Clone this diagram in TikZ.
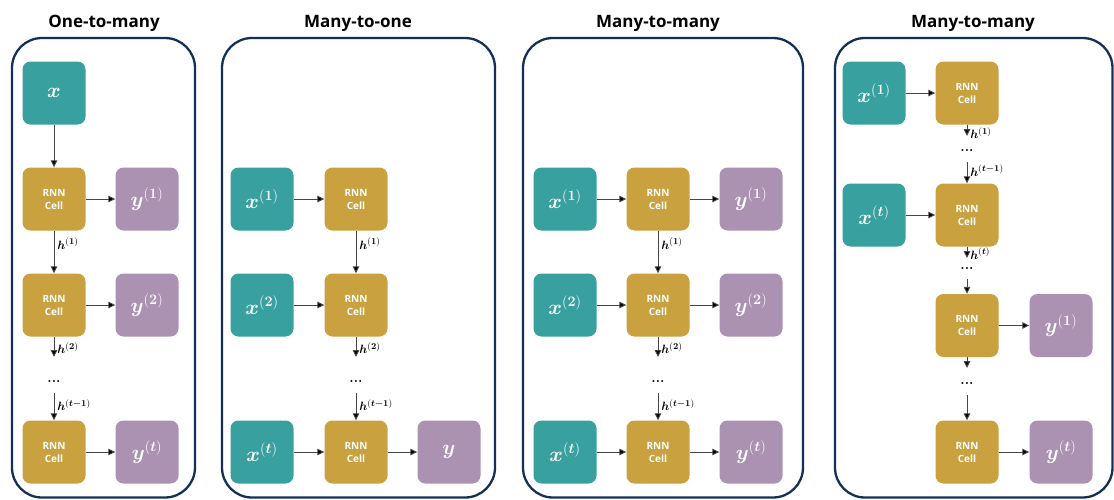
\documentclass[tikz,border=0pt]{standalone}
\usepackage{fontspec}
\usepackage{amsmath}
\usepackage{bm}
\setsansfont{Open Sans}
\usetikzlibrary{arrows.meta}

\definecolor{panelnavy}{RGB}{19,49,88}
\definecolor{inteal}{RGB}{57,160,160}
\definecolor{cellgold}{RGB}{201,161,63}
\definecolor{outpurple}{RGB}{171,145,178}
\definecolor{arrgray}{RGB}{70,70,70}

% bold symbol with a bold parenthesised superscript
\newcommand{\bsup}[2]{\bm{#1}^{\mathbf{(}\bm{#2}\mathbf{)}}}
\newcommand{\vx}[1]{\bsup{x}{#1}}
\newcommand{\vy}[1]{\bsup{y}{#1}}
\newcommand{\vh}[1]{\bsup{h}{#1}}
\newcommand{\cellname}{RNN\\Cell}

\tikzset{
  panel/.style={draw=panelnavy, line width=2.3pt, rounded corners=30pt},
  title/.style={font=\sffamily\bfseries\fontsize{17}{20}\selectfont, anchor=base},
  blk/.style={minimum width=63pt, minimum height=63pt, inner sep=0pt,
              rounded corners=8pt, text=white},
  inbox/.style={blk, fill=inteal, font=\fontsize{20}{24}\selectfont},
  cellbox/.style={blk, fill=cellgold, align=center,
                  font=\sffamily\bfseries\fontsize{10}{13}\selectfont},
  outbox/.style={blk, fill=outpurple, font=\fontsize{20}{24}\selectfont},
  arr/.style={draw=arrgray, line width=0.9pt,
              -{Triangle[length=7pt,width=6.5pt,fill=black]}},
  hlbl/.style={font=\fontsize{12.5}{14}\selectfont, right, inner sep=3pt},
  dots/.style={font=\bfseries\fontsize{14}{16}\selectfont, inner sep=0pt}
}

\begin{document}
\begin{tikzpicture}[x=1pt, y=-1pt]
\useasboundingbox (0,0) rectangle (1114,499);

% ---------- panel frames and titles ----------
\draw[panel] (12,38) rectangle (195,497.5);
\draw[panel] (222,38) rectangle (495,497.5);
\draw[panel] (523,38) rectangle (803,497.5);
\draw[panel] (835,38) rectangle (1112.5,497.5);

\node[title] (t1) at (104,27) {One-to-many};
\node[title] (t2) at (358,27) {Many-to-one};
\node[title] (t3) at (658,27) {Many-to-many};
\node[title] (t4) at (973,27) {Many-to-many};

% ---------- one-to-many ----------
\node[inbox]   (a-x)  at (54,93)   {$\bm{x}$};
\node[cellbox] (a-c1) at (54,199)  {\cellname};
\node[outbox]  (a-y1) at (147,199) {$\vy{1}$};
\node[cellbox] (a-c2) at (54,305)  {\cellname};
\node[outbox]  (a-y2) at (147,305) {$\vy{2}$};
\node[dots]    (a-d)  at (54,381)  {...};
\node[cellbox] (a-c3) at (54,452)  {\cellname};
\node[outbox]  (a-y3) at (147,452) {$\vy{t}$};
\coordinate (a-h2) at (54,357);
\coordinate (a-h3) at (54,393);

\draw[arr] (a-x) -- (a-c1);
\draw[arr] (a-c1) -- (a-y1);
\draw[arr] (a-c2) -- (a-y2);
\draw[arr] (a-c3) -- (a-y3);
\draw[arr] (a-c1) -- node[hlbl, pos=0.3] {$\vh{1}$} (a-c2);
\draw[arr] (a-c2) -- node[hlbl, pos=0.55] {$\vh{2}$} (a-h2);
\draw[arr] (a-h3) -- node[hlbl, pos=0.45] {$\vh{t-1}$} (a-c3);

% ---------- many-to-one ----------
\node[inbox]   (b-x1) at (262,199) {$\vx{1}$};
\node[cellbox] (b-c1) at (356,199) {\cellname};
\node[inbox]   (b-x2) at (262,305) {$\vx{2}$};
\node[cellbox] (b-c2) at (356,305) {\cellname};
\node[dots]    (b-d)  at (356,381) {...};
\node[inbox]   (b-x3) at (262,452) {$\vx{t}$};
\node[cellbox] (b-c3) at (356,452) {\cellname};
\node[outbox]  (b-y)  at (449,452) {$\bm{y}$};
\coordinate (b-h2) at (356,357);
\coordinate (b-h3) at (356,393);

\draw[arr] (b-x1) -- (b-c1);
\draw[arr] (b-x2) -- (b-c2);
\draw[arr] (b-x3) -- (b-c3);
\draw[arr] (b-c3) -- (b-y);
\draw[arr] (b-c1) -- node[hlbl, pos=0.3] {$\vh{1}$} (b-c2);
\draw[arr] (b-c2) -- node[hlbl, pos=0.55] {$\vh{2}$} (b-h2);
\draw[arr] (b-h3) -- node[hlbl, pos=0.45] {$\vh{t-1}$} (b-c3);

% ---------- many-to-many (aligned) ----------
\node[inbox]   (c-x1) at (565,199) {$\vx{1}$};
\node[cellbox] (c-c1) at (658,199) {\cellname};
\node[outbox]  (c-y1) at (751,199) {$\vy{1}$};
\node[inbox]   (c-x2) at (565,305) {$\vx{2}$};
\node[cellbox] (c-c2) at (658,305) {\cellname};
\node[outbox]  (c-y2) at (751,305) {$\vy{2}$};
\node[dots]    (c-d)  at (658,381) {...};
\node[inbox]   (c-x3) at (565,452) {$\vx{t}$};
\node[cellbox] (c-c3) at (658,452) {\cellname};
\node[outbox]  (c-y3) at (751,452) {$\vy{t}$};
\coordinate (c-h2) at (658,357);
\coordinate (c-h3) at (658,393);

\draw[arr] (c-x1) -- (c-c1);
\draw[arr] (c-c1) -- (c-y1);
\draw[arr] (c-x2) -- (c-c2);
\draw[arr] (c-c2) -- (c-y2);
\draw[arr] (c-x3) -- (c-c3);
\draw[arr] (c-c3) -- (c-y3);
\draw[arr] (c-c1) -- node[hlbl, pos=0.3] {$\vh{1}$} (c-c2);
\draw[arr] (c-c2) -- node[hlbl, pos=0.55] {$\vh{2}$} (c-h2);
\draw[arr] (c-h3) -- node[hlbl, pos=0.45] {$\vh{t-1}$} (c-c3);

% ---------- many-to-many (encoder-decoder) ----------
\node[inbox]   (d-x1) at (874,93)   {$\vx{1}$};
\node[cellbox] (d-c1) at (967,93)   {\cellname};
\node[dots]    (d-d1) at (967,150)  {...};
\node[inbox]   (d-x2) at (874,215)  {$\vx{t}$};
\node[cellbox] (d-c2) at (967,215)  {\cellname};
\node[dots]    (d-d2) at (967,268)  {...};
\node[cellbox] (d-c3) at (967,325.5){\cellname};
\node[outbox]  (d-y1) at (1061,325.5){$\vy{1}$};
\node[dots]    (d-d3) at (967,383)  {...};
\node[cellbox] (d-c4) at (967,452)  {\cellname};
\node[outbox]  (d-y2) at (1061,452) {$\vy{t}$};
\coordinate (d-e1) at (967,136);
\coordinate (d-s2) at (967,162);
\coordinate (d-e2) at (967,258);
\coordinate (d-s3) at (967,279);
\coordinate (d-e3) at (967,368);
\coordinate (d-s4) at (967,395);

\draw[arr] (d-x1) -- (d-c1);
\draw[arr] (d-x2) -- (d-c2);
\draw[arr] (d-c3) -- (d-y1);
\draw[arr] (d-c4) -- (d-y2);
\draw[arr] (d-c1) -- node[hlbl, pos=0.75] {$\vh{1}$} (d-e1);
\draw[arr] (d-s2) -- node[hlbl, pos=0.4] {$\vh{t-1}$} (d-c2);
\draw[arr] (d-c2) -- node[hlbl, pos=0.6] {$\vh{t}$} (d-e2);
\draw[arr] (d-s3) -- (d-c3);
\draw[arr] (d-c3) -- (d-e3);
\draw[arr] (d-s4) -- (d-c4);
\end{tikzpicture}
\end{document}
